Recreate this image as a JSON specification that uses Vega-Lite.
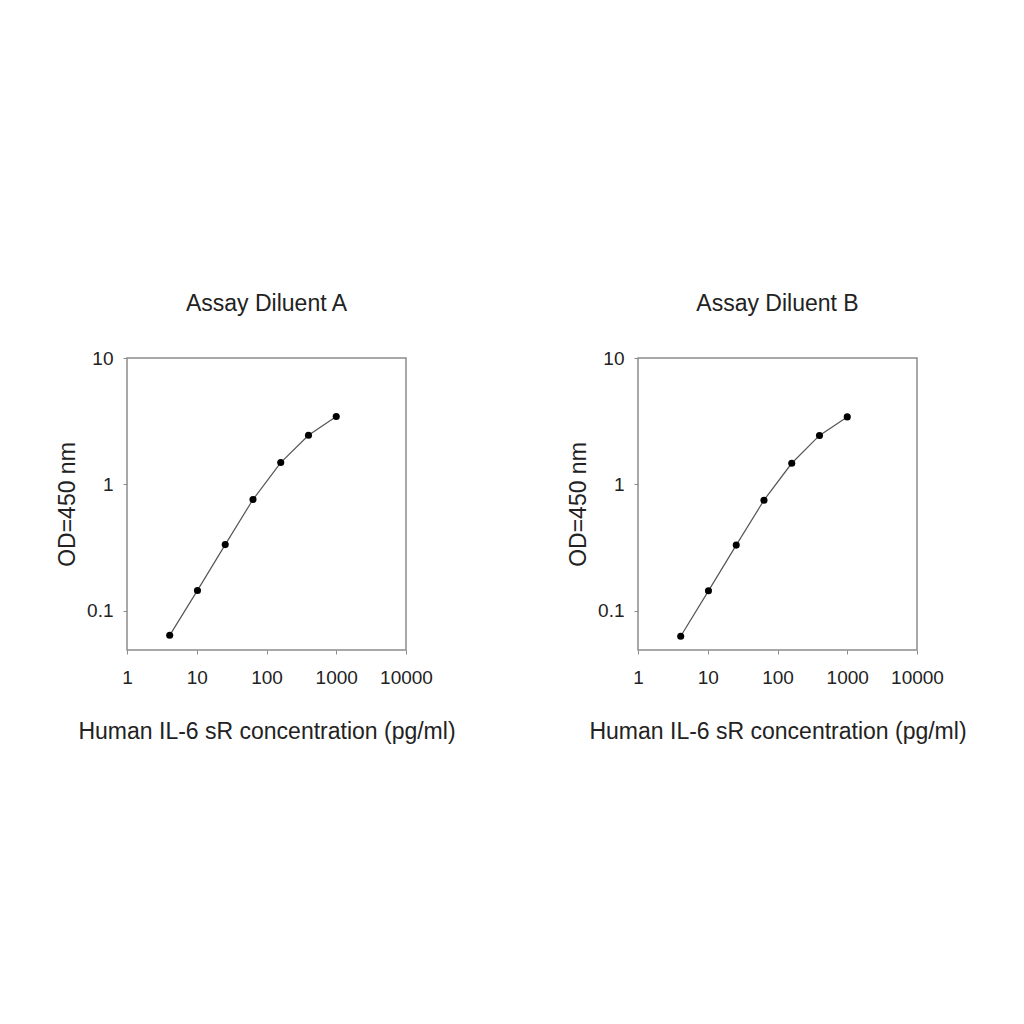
{
  "$schema": "https://vega.github.io/schema/vega-lite/v6.json",
  "background": "white",
  "padding": {"left": 55, "top": 292, "right": 5, "bottom": 5},
  "spacing": 232,
  "bounds": "flush",
  "data": {
    "values": [
      {"diluent": "A", "conc": 4.096, "od": 0.064},
      {"diluent": "A", "conc": 10.24, "od": 0.145},
      {"diluent": "A", "conc": 25.6, "od": 0.334},
      {"diluent": "A", "conc": 64, "od": 0.76},
      {"diluent": "A", "conc": 160, "od": 1.49},
      {"diluent": "A", "conc": 400, "od": 2.45},
      {"diluent": "A", "conc": 1000, "od": 3.45},
      {"diluent": "B", "conc": 4.096, "od": 0.063},
      {"diluent": "B", "conc": 10.24, "od": 0.144},
      {"diluent": "B", "conc": 25.6, "od": 0.331},
      {"diluent": "B", "conc": 64, "od": 0.75},
      {"diluent": "B", "conc": 160, "od": 1.47},
      {"diluent": "B", "conc": 400, "od": 2.44},
      {"diluent": "B", "conc": 1000, "od": 3.42}
    ]
  },
  "config": {
    "font": "Liberation Sans",
    "view": {"stroke": "#8c8c8c", "strokeWidth": 1.5},
    "title": {"fontSize": 23, "fontWeight": "normal", "color": "#222", "offset": 33},
    "axis": {
      "grid": false,
      "domain": false,
      "tickColor": "#8c8c8c",
      "tickSize": 4,
      "labelFontSize": 19,
      "labelColor": "#222",
      "titleFontSize": 23,
      "titleFontWeight": "normal",
      "titleColor": "#222"
    }
  },
  "hconcat": [
    {
      "title": "Assay Diluent A",
      "width": 279,
      "height": 292,
      "transform": [{"filter": "datum.diluent == 'A'"}],
      "encoding": {
        "x": {
          "field": "conc",
          "type": "quantitative",
          "title": "Human IL-6 sR concentration (pg/ml)",
          "scale": {"type": "log", "domain": [1, 10000], "nice": false},
          "axis": {"values": [1, 10, 100, 1000, 10000], "labelExpr": "datum.value", "labelPadding": 14, "titlePadding": 33, "labelFlush": false}
        },
        "y": {
          "field": "od",
          "type": "quantitative",
          "title": "OD=450 nm",
          "scale": {"type": "log", "domain": [0.049, 10], "nice": false},
          "axis": {"values": [0.1, 1, 10], "labelExpr": "datum.value", "labelPadding": 10, "titlePadding": 7, "labelFlush": false}
        }
      },
      "layer": [
        {"mark": {"type": "line", "color": "#555", "strokeWidth": 1.2}},
        {"mark": {"type": "circle", "color": "black", "size": 50, "opacity": 1}}
      ]
    },
    {
      "title": "Assay Diluent B",
      "width": 279,
      "height": 292,
      "transform": [{"filter": "datum.diluent == 'B'"}],
      "encoding": {
        "x": {
          "field": "conc",
          "type": "quantitative",
          "title": "Human IL-6 sR concentration (pg/ml)",
          "scale": {"type": "log", "domain": [1, 10000], "nice": false},
          "axis": {"values": [1, 10, 100, 1000, 10000], "labelExpr": "datum.value", "labelPadding": 14, "titlePadding": 33, "labelFlush": false}
        },
        "y": {
          "field": "od",
          "type": "quantitative",
          "title": "OD=450 nm",
          "scale": {"type": "log", "domain": [0.049, 10], "nice": false},
          "axis": {"values": [0.1, 1, 10], "labelExpr": "datum.value", "labelPadding": 10, "titlePadding": 7, "labelFlush": false}
        }
      },
      "layer": [
        {"mark": {"type": "line", "color": "#555", "strokeWidth": 1.2}},
        {"mark": {"type": "circle", "color": "black", "size": 50, "opacity": 1}}
      ]
    }
  ]
}
